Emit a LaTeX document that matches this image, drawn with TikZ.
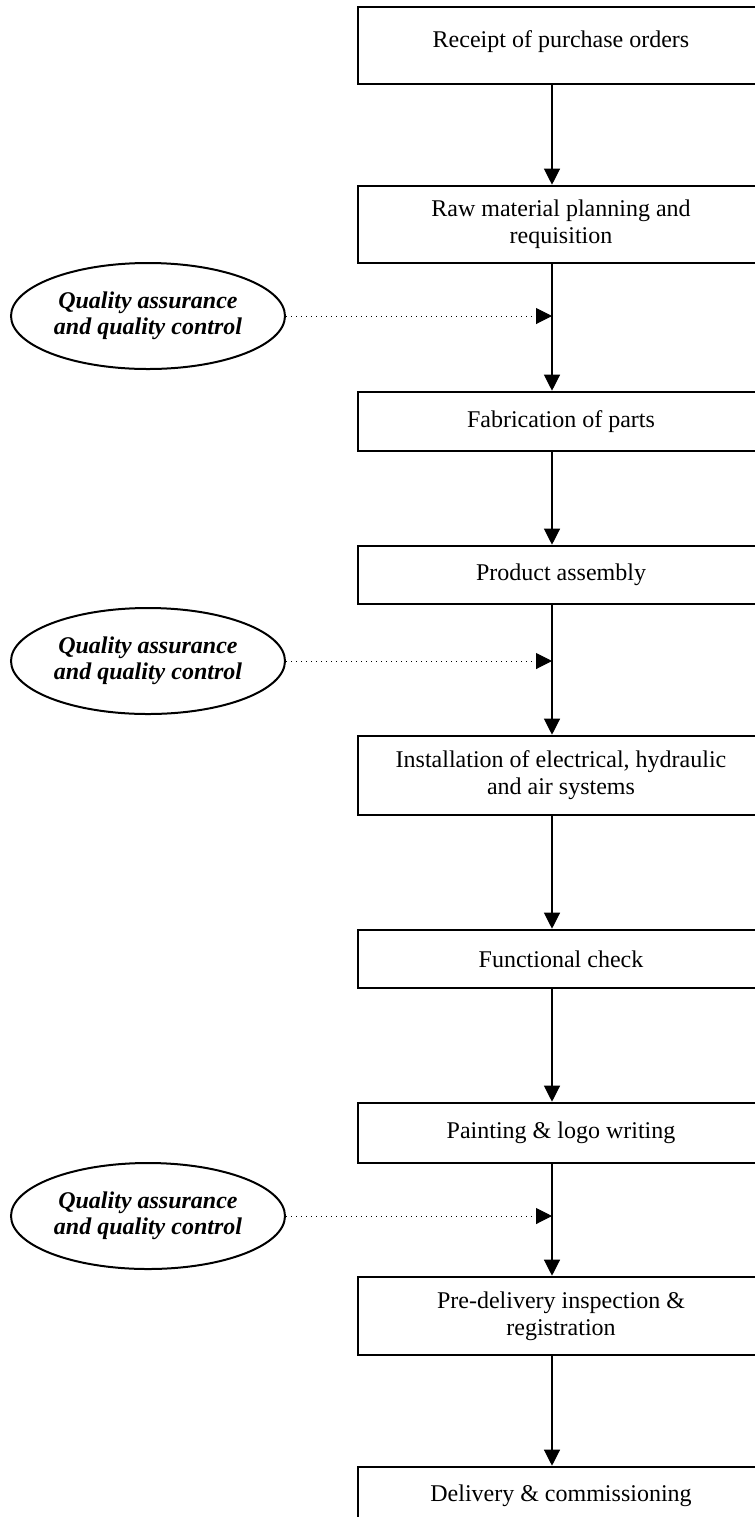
\documentclass[tikz,border=0pt]{standalone}
\usepackage{fontspec}
\setmainfont{Liberation Serif}
\usetikzlibrary{arrows.meta,shapes.geometric}

\begin{document}
\begin{tikzpicture}[
  x=0.5pt, y=-0.5pt,
  font=\fontsize{12}{13.5}\selectfont,
  >={Triangle[length=8pt,width=8pt]},
  stage/.style={draw, line width=1.3pt, align=center, inner sep=2pt,
                minimum width=203pt},
  qa/.style={draw, ellipse, line width=1pt, align=center, inner sep=0pt,
             minimum width=137pt, minimum height=53pt,
             font=\fontsize{12}{13}\selectfont\bfseries\itshape},
  arrow/.style={->, line width=0.6pt},
  qaarrow/.style={->, dotted, line width=0.5pt}
]
\clip (0,0) rectangle (755,1517);

% Process stages
\node[stage, minimum height=38.5pt, text depth=6pt] (b1) at (561,45.5) {Receipt of purchase orders};
\node[stage, minimum height=38.5pt] (b2) at (561,224.5) {Raw material planning and\\ requisition};
\node[stage, minimum height=29.5pt] (b3) at (561,421.5) {Fabrication of parts};
\node[stage, minimum height=29pt] (b4) at (561,575) {Product assembly};
\node[stage, minimum height=39.5pt] (b5) at (561,775.5) {Installation of electrical, hydraulic\\ and air systems};
\node[stage, minimum height=29pt] (b6) at (561,959) {Functional check};
\node[stage, minimum height=30pt] (b7) at (561,1133) {Painting \& logo writing};
\node[stage, minimum height=39pt] (b8) at (561,1316) {Pre-delivery inspection \&\\ registration};
\node[stage, minimum height=29pt] (b9) at (561,1496) {Delivery \& commissioning};

% Quality checks
\node[qa] (q1) at (148,316) {Quality assurance\\ and quality control};
\node[qa] (q2) at (148,661) {Quality assurance\\ and quality control};
\node[qa] (q3) at (148,1216) {Quality assurance\\ and quality control};

\coordinate (axis) at (552,0);

% Flows
\draw[arrow] (b1.south -| axis) -- (b2.north -| axis);
\draw[arrow] (b2.south -| axis) -- (b3.north -| axis);
\draw[arrow] (b3.south -| axis) -- (b4.north -| axis);
\draw[arrow] (b4.south -| axis) -- (b5.north -| axis);
\draw[arrow] (b5.south -| axis) -- (b6.north -| axis);
\draw[arrow] (b6.south -| axis) -- (b7.north -| axis);
\draw[arrow] (b7.south -| axis) -- (b8.north -| axis);
\draw[arrow] (b8.south -| axis) -- (b9.north -| axis);

\draw[qaarrow] (q1.east) -- (q1.east -| axis);
\draw[qaarrow] (q2.east) -- (q2.east -| axis);
\draw[qaarrow] (q3.east) -- (q3.east -| axis);

\end{tikzpicture}
\end{document}
